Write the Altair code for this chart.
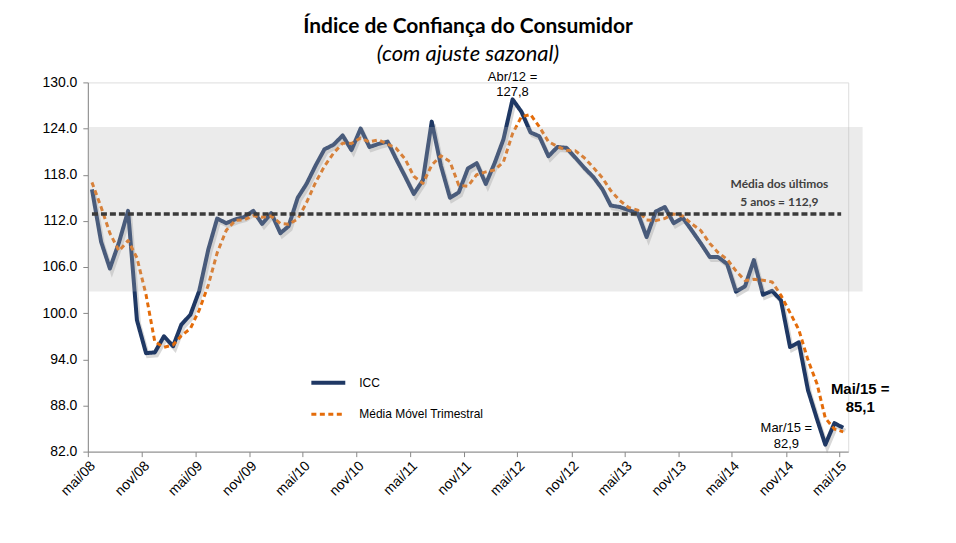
import altair as alt
import pandas as pd

# Índice de Confiança do Consumidor (com ajuste sazonal), mai/08 .. mai/15
ICC = [116.1, 109.3, 105.8, 109.2, 113.3, 99.1, 94.8, 94.9, 97.0, 95.7, 98.5, 99.8,
       102.9, 108.3, 112.3, 111.7, 112.2, 112.5, 113.3, 111.6, 113.0, 110.4, 111.3, 115.0,
       116.8, 119.2, 121.3, 121.9, 123.1, 121.2, 124.0, 121.6, 122.0, 122.3, 120.1, 117.8,
       115.5, 117.3, 124.9, 119.2, 115.0, 115.7, 118.8, 119.5, 116.8, 119.6, 122.6, 127.8,
       126.2, 123.5, 123.0, 120.4, 121.6, 121.5, 120.2, 118.9, 117.7, 116.1, 114.0, 113.8,
       113.4, 113.0, 109.9, 113.2, 113.8, 111.7, 112.4, 110.8, 109.1, 107.3, 107.3, 106.4,
       102.8, 103.5, 106.9, 102.4, 102.9, 101.7, 95.6, 96.2, 90.0, 86.2, 82.9, 85.7, 85.1]
# mar/08 and abr/08, only used to compute the 3-month moving average
ICC_PRIOR = [118.9, 116.0]

SERIES = ["ICC", "Média Móvel Trimestral"]
SERIES_COLORS = ["#1F3864", "#E46C0A"]

MEAN_5Y = 112.9
MEAN_LINE_DATES = ["2008-05-15", "2015-05-08"]
BAND_LOW, BAND_HIGH = 102.8, 124.2
BAND_DATES = ["2008-05-01", "2015-07-20"]

Y_TICKS = [82, 88, 94, 100, 106, 112, 118, 124, 130]
X_TICKS = [(2008, 5), (2008, 11), (2009, 5), (2009, 11), (2010, 5), (2010, 11),
           (2011, 5), (2011, 11), (2012, 5), (2012, 11), (2013, 5), (2013, 11),
           (2014, 5), (2014, 11), (2015, 5)]
MONTH_ABBR = ["jan", "fev", "mar", "abr", "mai", "jun", "jul", "ago", "set", "out", "nov", "dez"]


def month_date(k):
    # k = 0 -> mai/08 ; mid-month position
    y = 2008 + (4 + k) // 12
    m = (4 + k) % 12 + 1
    return f"{y:04d}-{m:02d}-15"


rows = []
for j, v in enumerate(ICC_PRIOR):
    rows.append({"date": month_date(j - len(ICC_PRIOR)), "icc": v, "shown": False})
for k, v in enumerate(ICC):
    rows.append({"date": month_date(k), "icc": v, "shown": True})
df = pd.DataFrame(rows)

band_df = pd.DataFrame({"x": [BAND_DATES[0]], "x2": [BAND_DATES[1]],
                        "y": [BAND_LOW], "y2": [BAND_HIGH]})
mean_df = pd.DataFrame({"date": MEAN_LINE_DATES, "valor": [MEAN_5Y] * 2})

xscale = alt.Scale(type="utc", domain=[alt.DateTime(year=2008, month=5, date=1, utc=True),
                                       alt.DateTime(year=2015, month=6, date=1, utc=True)])
yscale = alt.Scale(domain=[82, 130], nice=False, zero=False)

month_js = "[" + ",".join(f"'{m}'" for m in MONTH_ABBR) + "]"
xaxis = alt.Axis(values=[alt.DateTime(year=y, month=m, date=1, utc=True) for y, m in X_TICKS],
                 labelExpr=f"{month_js}[utcmonth(datum.value)] + '/' + utcFormat(datum.value, '%y')",
                 labelAngle=-45, labelFont="Liberation Sans", labelFontSize=14,
                 labelColor="#000000", tickSize=5, tickColor="#888888",
                 domainColor="#888888", grid=False, title=None, labelPadding=2)
yaxis = alt.Axis(values=Y_TICKS, format=".1f", labelFont="Liberation Sans",
                 labelFontSize=14, labelColor="#000000", tickSize=5,
                 tickColor="#888888", domainColor="#888888", grid=False,
                 title=None, labelPadding=6)


def X(field):
    return alt.X(field, type="temporal", scale=xscale, axis=xaxis)


def Y(field):
    return alt.Y(field, type="quantitative", scale=yscale, axis=yaxis)


base = (alt.Chart(df)
        .transform_window(mm="mean(icc)", frame=[-2, 0], sort=[alt.SortField("date")])
        .transform_filter("datum.shown")
        .transform_fold(["icc", "mm"], as_=["key", "valor"])
        .transform_calculate(serie="datum.key == 'icc' ? 'ICC' : 'Média Móvel Trimestral'"))

shadow = base.transform_filter("datum.key == 'icc'").mark_line(
    color="#7f7f7f", opacity=0.3, strokeWidth=4, xOffset=2, yOffset=3
).encode(x=X("date"), y=Y("valor"))

legend = alt.Legend(title=None, orient="none", legendX=222, legendY=282,
                    symbolType="stroke", symbolSize=1156, symbolStrokeWidth=3.5,
                    labelFont="Liberation Sans", labelFontSize=12, labelColor="#000000",
                    labelOffset=12, rowPadding=5, padding=0)

lines = base.mark_line(strokeJoin="round").encode(
    x=X("date"), y=Y("valor"),
    color=alt.Color("serie:N", scale=alt.Scale(domain=SERIES, range=SERIES_COLORS), legend=legend),
    strokeDash=alt.StrokeDash("serie:N", scale=alt.Scale(domain=SERIES, range=[[1, 0], [5, 3.5]]),
                              legend=legend),
    strokeWidth=alt.StrokeWidth("serie:N", scale=alt.Scale(domain=SERIES, range=[4, 3]), legend=None),
)

band = alt.Chart(band_df).mark_rect(color="#B8B8B8", opacity=0.28).encode(
    x=X("x"), x2="x2", y=Y("y"), y2="y2")

mean_line = alt.Chart(mean_df).mark_line(color="#3a3a3a", strokeDash=[6, 3], strokeWidth=3.5).encode(
    x=X("date"), y=Y("valor"))

ANNOT_TEXT = ["Abr/12 =\n127,8", "Média dos últimos\n5 anos = 112,9", "Mar/15 =\n82,9", "Mai/15 =\n85,1"]
ANNOT_DATE = [month_date(47), "2014-10-10", month_date(82), month_date(84)]
ANNOT_VAL = [127.8, MEAN_5Y, 82.9, 85.1]


def annot(i, **kw):
    d = pd.DataFrame({"date": [ANNOT_DATE[i]], "valor": [ANNOT_VAL[i]], "t": [ANNOT_TEXT[i]]})
    return alt.Chart(d).mark_text(lineBreak="\n", align="center", baseline="bottom", **kw).encode(
        x=X("date"), y=Y("valor"), text="t:N")


t_abr = annot(0, font="Liberation Sans", fontSize=13, color="#000000", lineHeight=15, dy=-15)
t_media = annot(1, font="Lato", fontSize=12, fontWeight="bold", color="#404040", lineHeight=18, dy=-23)
t_mar = annot(2, font="Liberation Sans", fontSize=13, color="#000000", lineHeight=16, dx=-39, dy=-10)
t_mai = annot(3, font="Liberation Sans", fontSize=15, fontWeight="bold", color="#000000",
              lineHeight=18, dx=17, dy=-31)

chart = alt.layer(shadow, lines, band, mean_line, t_abr, t_media, t_mar, t_mai).properties(
    width=762, height=370,
    title=alt.TitleParams(text="Índice de Confiança do Consumidor", subtitle="(com ajuste sazonal)",
                          font="Lato", fontSize=21, fontWeight="bold", color="#000000",
                          subtitleFont="Lato", subtitleFontSize=22, subtitleFontStyle="italic",
                          subtitleColor="#000000", anchor="middle", frame="group",
                          offset=6, subtitlePadding=7),
    autosize=alt.AutoSizeParams(type="none"),
    padding={"left": 80, "top": 74, "right": 100, "bottom": 80},
).configure_view(stroke=None).configure(background="#ffffff")

chart.save("out.html", embed_options={"renderer": "svg", "actions": False})
